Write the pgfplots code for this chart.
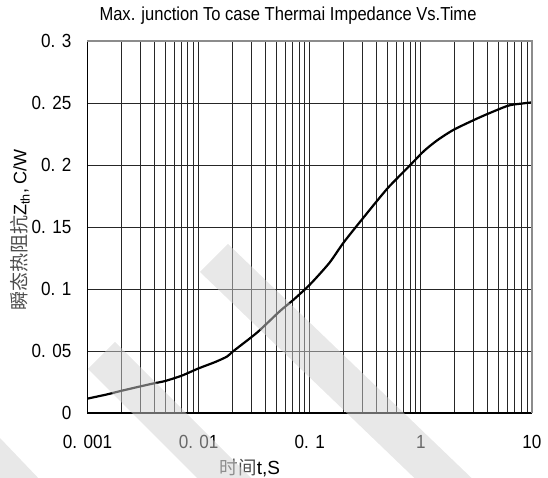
\documentclass[border=0pt]{standalone}
\usepackage{pgfplots}
\pgfplotsset{compat=1.18}
\usepackage{fontspec}
\setmainfont{Liberation Sans}
\newfontfamily\tickf[FakeStretch=0.9]{Liberation Sans}
\newfontfamily\titlef[FakeStretch=0.88]{Liberation Sans}
\newfontfamily\cjk{Noto Sans CJK SC}
\begin{document}
\begin{tikzpicture}
\useasboundingbox (0,0) rectangle (548bp,478bp);
\begin{axis}[
  at={(87.5bp,65bp)}, anchor=south west,
  width=444.5bp, height=372bp, scale only axis,
  xmode=log, log basis x=10,
  xmin=0.001, xmax=10, ymin=0, ymax=0.3,
  xtick={0.001,0.01,0.1,1,10},
  xticklabels={{0. 001},{0. 01},{0. 1},{1},{10}},
  minor xtick={0.002,0.003,0.004,0.005,0.006,0.007,0.008,0.009,
               0.02,0.03,0.04,0.05,0.06,0.07,0.08,0.09,
               0.2,0.3,0.4,0.5,0.6,0.7,0.8,0.9,
               2,3,4,5,6,7,8,9},
  ytick={0,0.05,0.1,0.15,0.2,0.25,0.3},
  yticklabels={{0},{0. 05},{0. 1},{0. 15},{0. 2},{0. 25},{0. 3}},
  major tick length=0pt, minor tick length=0pt,
  xmajorgrids=true, xminorgrids=true, ymajorgrids=true,
  major grid style={black!85, line width=0.8bp},
  minor grid style={black!85, line width=0.8bp},
  axis line style={draw=none},
  tick label style={font=\tickf\fontsize{19bp}{22bp}\selectfont, inner sep=0pt},
  yticklabel style={anchor=east, xshift=-16bp},
  xticklabel style={anchor=north, yshift=-22bp},
  clip=false,
]
\addplot[black, line width=2.2bp, smooth, tension=0.4] coordinates {
(0.001,0.0116) (0.0015,0.0150) (0.002,0.0178) (0.003,0.0215) (0.004,0.0240)
(0.005,0.0258) (0.007,0.0300) (0.01,0.0360) (0.014,0.0410) (0.018,0.0455)
(0.0206,0.0500) (0.0336,0.0649) (0.0544,0.0825) (0.0718,0.0915) (0.1014,0.1040)
(0.15,0.1210) (0.2026,0.1377) (0.307,0.1580) (0.499,0.1810) (0.755,0.1975)
(1.067,0.2113) (1.408,0.2200) (1.99,0.2286)
(3.46,0.2388) (6.03,0.2477) (8.0,0.2495) (10,0.2505)
};
\draw[black, line width=1.2bp] (rel axis cs:0,1) -- (rel axis cs:0,0) -- (rel axis cs:1,0);
\draw[black!45, line width=2.2bp] (rel axis cs:0,1) -- (rel axis cs:1,1) -- (rel axis cs:1,0);
\end{axis}
\node[anchor=base] at (288bp,457bp) {\titlef\fontsize{18.8bp}{22bp}\selectfont Max. junction To case Thermai Impedance Vs.Time};
\node[rotate=90] at (20bp,248bp) {{\cjk\fontsize{19bp}{22bp}\selectfont\color{black!70}瞬态热阻抗}{\fontsize{18bp}{22bp}\selectfont Z\textsubscript{th}, C/W}};
\node[anchor=base] at (250bp,4bp) {{\cjk\fontsize{18.5bp}{22bp}\selectfont\color{black!70}时间}{\fontsize{19bp}{22bp}\selectfont t,S}};
\fill[black!18, opacity=0.5] (228bp,234bp) -- (200bp,206bp) -- (456bp,-40bp) -- (484bp,-12bp) -- cycle;
\fill[black!18, opacity=0.5] (115bp,136bp) -- (88bp,109bp) -- (253bp,-56bp) -- (280bp,-29bp) -- cycle;
\fill[black!18, opacity=0.5] (0bp,40bp) -- (42bp,-4bp) -- (0bp,-4bp) -- cycle;
\end{tikzpicture}
\end{document}
